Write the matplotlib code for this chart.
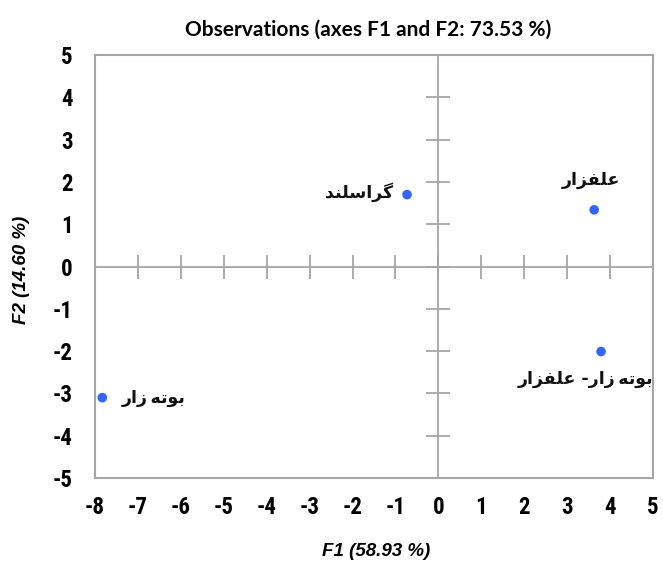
import matplotlib
matplotlib.use("Agg")
import matplotlib.pyplot as plt
from matplotlib import font_manager

# ---------------- data ----------------
labels = ["گراسلند", "علفزار", "بوته\u200cزار- علفزار", "بوته\u200cزار"]
f1 = [-0.73, 3.63, 3.79, -7.83]
f2 = [1.70, 1.34, -2.01, -3.10]
label_pos = ["left", "above", "below", "right"]
xticks = list(range(-8, 6))
yticks = list(range(-5, 6))
title = "Observations (axes F1 and F2: 73.53 %)"
xlabel = "F1 (58.93 %)"
ylabel = "F2 (14.60 %)"

# ---------------- minimal Arabic/Persian shaping ----------------
# letter: (isolated, final, initial, medial) ; right-joining letters have 2 forms
FORMS = {
    "ا": ("\uFE8D", "\uFE8E"),
    "ب": ("\uFE8F", "\uFE90", "\uFE91", "\uFE92"),
    "ت": ("\uFE95", "\uFE96", "\uFE97", "\uFE98"),
    "د": ("\uFEA9", "\uFEAA"),
    "ر": ("\uFEAD", "\uFEAE"),
    "ز": ("\uFEAF", "\uFEB0"),
    "س": ("\uFEB1", "\uFEB2", "\uFEB3", "\uFEB4"),
    "ع": ("\uFEC9", "\uFECA", "\uFECB", "\uFECC"),
    "ف": ("\uFED1", "\uFED2", "\uFED3", "\uFED4"),
    "ل": ("\uFEDD", "\uFEDE", "\uFEDF", "\uFEE0"),
    "ن": ("\uFEE5", "\uFEE6", "\uFEE7", "\uFEE8"),
    "ه": ("\uFEE9", "\uFEEA", "\uFEEB", "\uFEEC"),
    "و": ("\uFEED", "\uFEEE"),
    "گ": ("\uFB92", "\uFB93", "\uFB94", "\uFB95"),
}


def shape(text):
    out = []
    n = len(text)
    for i, ch in enumerate(text):
        if ch not in FORMS:
            if ch == "\u200c":
                out.append("\u2009")
            else:
                out.append(ch)
            continue
        prev = text[i - 1] if i > 0 else None
        nxt = text[i + 1] if i < n - 1 else None
        join_prev = prev in FORMS and len(FORMS[prev]) == 4
        join_next = nxt in FORMS and len(FORMS[ch]) == 4
        f = FORMS[ch]
        if join_prev and join_next:
            out.append(f[3])
        elif join_prev:
            out.append(f[1])
        elif join_next:
            out.append(f[2])
        else:
            out.append(f[0])
    return "".join(reversed(out))


# ---------------- fonts ----------------
def pick(*names):
    avail = {f.name for f in font_manager.fontManager.ttflist}
    for nm in names:
        if nm in avail:
            return nm
    return "DejaVu Sans"

tick_font = pick("Liberation Sans Narrow", "Roboto Condensed", "Liberation Sans")
title_font = pick("Lato", "Open Sans", "DejaVu Sans")
label_font = pick("Liberation Sans", "DejaVu Sans")

W, H = 663, 567
fig = plt.figure(figsize=(W / 100, H / 100), dpi=100)
x0, x1, ytop, ybot = 95, 653, 55, 478
rect = [x0 / W, 1 - ybot / H, (x1 - x0) / W, (ybot - ytop) / H]
ax = fig.add_axes(rect)

grey = "#a6a6a6"
ax.set_xlim(-8, 5)
ax.set_ylim(-5, 5)
ax.set_xticks(xticks)
ax.set_yticks(yticks)
ax.set_xticklabels([str(t) for t in xticks], fontfamily=tick_font,
                   fontweight="bold", fontsize=16.5)
ax.set_yticklabels([str(t) for t in yticks], fontfamily=tick_font,
                   fontweight="bold", fontsize=16.5)
ax.tick_params(length=0, pad=13)
ax.tick_params(axis="y", pad=16)
for s in ax.spines.values():
    s.set_color(grey)
    s.set_linewidth(1.5)

# center axes with crossing ticks
ax2 = fig.add_axes(rect, sharex=ax, sharey=ax, facecolor="none")
ax2.spines["left"].set_position(("data", 0))
ax2.spines["bottom"].set_position(("data", 0))
ax2.spines["right"].set_visible(False)
ax2.spines["top"].set_visible(False)
for k in ("left", "bottom"):
    ax2.spines[k].set_color(grey)
    ax2.spines[k].set_linewidth(1.3)
ax2.tick_params(direction="inout", length=17, width=1.3, color=grey,
                labelleft=False, labelbottom=False)

ax2.scatter(f1, f2, s=48, color="#3366ff", zorder=5, edgecolors="none")

ar_font = ["DejaVu Sans"]
for lab, x, y, pos in zip(labels, f1, f2, label_pos):
    t = shape(lab)
    kw = dict(fontfamily=ar_font, fontweight="bold", fontsize=12.5, color="#111111")
    if pos == "left":
        ax2.annotate(t, (x, y), xytext=(-10, 2), textcoords="offset points",
                     ha="right", va="center", **kw)
    elif pos == "right":
        ax2.annotate(t, (x, y), xytext=(14, 0), textcoords="offset points",
                     ha="left", va="center", **kw)
    elif pos == "above":
        ax2.annotate(t, (x, y), xytext=(-2, 15), textcoords="offset points",
                     ha="center", va="bottom", **kw)
    else:
        ax2.annotate(t, (x, y), xytext=(-11, -13), textcoords="offset points",
                     ha="center", va="top", **kw)

fig.text(368 / W, 1 - 30 / H, title, ha="center", va="center",
         fontfamily=title_font, fontweight="bold", fontsize=15)
fig.text(376 / W, 1 - 551 / H, xlabel, ha="center", va="center",
         fontfamily=label_font, fontstyle="italic", fontweight="bold", fontsize=13.5)
fig.text(22 / W, 1 - 270 / H, ylabel, ha="center", va="center",
         rotation=90, fontfamily=label_font, fontstyle="italic",
         fontweight="bold", fontsize=13.5)

fig.savefig("out.png", dpi=100)
